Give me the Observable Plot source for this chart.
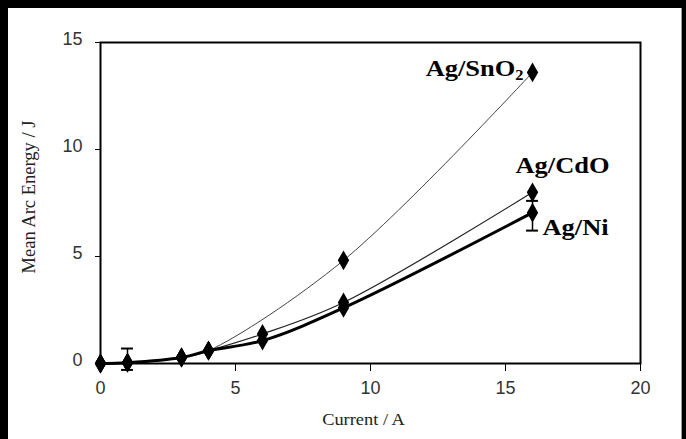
<!DOCTYPE html>
<html><head><meta charset="utf-8">
<script src="https://cdn.jsdelivr.net/npm/d3@7"></script>
<script src="https://cdn.jsdelivr.net/npm/@observablehq/plot@0.6"></script>
<style>
html,body{margin:0;padding:0;background:#000;width:686px;height:439px;overflow:hidden}
#panel{position:absolute;left:8px;top:8px;width:674px;height:431px;background:#fff;border-right:1px solid #999;box-sizing:border-box}
#chart{position:absolute;left:0;top:0}
</style></head><body>
<div id="panel"></div><div id="chart"></div>
<script>
// Data
const currents = [0, 1, 3, 4, 6, 9, 16];
const energyNi = [0, 0.04, 0.28, 0.6, 1.07, 2.6, 7.05];
const energyCdO = [0, 0.04, 0.28, 0.6, 1.38, 2.85, 8.0];
const currentsSnO2 = [0, 1, 3, 4, 9, 16];
const energySnO2 = [0, 0.04, 0.28, 0.6, 4.82, 13.6];
const errCurrents = [1, 16];
const errLow = [-0.3, 6.21];
const errHigh = [0.7, 7.6];
const seriesNames = ["Ag/SnO2", "Ag/CdO", "Ag/Ni"];
const xTicks = [0, 5, 10, 15, 20];
const yTicks = [0, 5, 10, 15];
const xTitle = "Current / A";
const yTitle = "Mean Arc Energy / J";

const rowsNi = currents.map((x, i) => ({x, y: energyNi[i]}));
const rowsCdO = currents.map((x, i) => ({x, y: energyCdO[i]}));
const rowsSnO2 = currentsSnO2.map((x, i) => ({x, y: energySnO2[i]}));
const errRows = errCurrents.map((x, i) => ({x, lo: errLow[i], hi: errHigh[i]}));
const capRows = errRows.flatMap(d => [{x: d.x, y: d.lo}, {x: d.x, y: d.hi}]);
const capHalf = 0.22;
const lastOf = rows => rows[rows.length - 1];
const labelSnO2 = [{...lastOf(rowsSnO2), text: seriesNames[0]}];
const labelCdO = [{...lastOf(rowsCdO), text: seriesNames[1]}];
const labelNi = [{...lastOf(rowsNi), text: seriesNames[2]}];

const serif = "'Liberation Serif','Times New Roman',serif";
const labelStyle = {x: "x", y: "y", text: "text", fontFamily: serif, fontWeight: "bold", fontSize: 23, fill: "#000", lineAnchor: "bottom"};

const chart = Plot.plot({
  width: 686, height: 439,
  marginLeft: 100, marginRight: 46, marginTop: 42, marginBottom: 76,
  style: {background: "transparent", fontFamily: "'Liberation Sans Narrow','Liberation Sans',Arial,sans-serif", fontSize: "18px", color: "#000"},
  x: {domain: [0, 20]},
  y: {domain: [0, 15]},
  marks: [
    Plot.axisX(xTicks, {tickSize: 8, fill: "none", stroke: "#000", label: null}),
    Plot.axisX(xTicks, {tickSize: 0, tickPadding: 18, fill: "#333", label: null}),
    Plot.axisY(yTicks, {tickSize: 5, fill: "none", stroke: "#000", label: null}),
    Plot.axisY(yTicks, {tickSize: 0, tickPadding: 18, dy: -3, fill: "#333", label: null}),
    Plot.line(rowsSnO2, {x: "x", y: "y", curve: "catmull-rom", stroke: "#444", strokeWidth: 1}),
    Plot.line(rowsCdO, {x: "x", y: "y", curve: "catmull-rom", stroke: "#222", strokeWidth: 1.2}),
    Plot.line(rowsNi, {x: "x", y: "y", curve: "catmull-rom", stroke: "#000", strokeWidth: 3}),
    Plot.ruleX(errRows, {x: "x", y1: "lo", y2: "hi", stroke: "#000", strokeWidth: 1.5}),
    Plot.ruleY(capRows, {y: "y", x1: d => d.x - capHalf, x2: d => d.x + capHalf, stroke: "#000", strokeWidth: 2}),
    Plot.dot(rowsSnO2.concat(rowsCdO, rowsNi), {x: "x", y: "y", symbol: "diamond", r: 6, fill: "#000"}),
    Plot.frame({stroke: "#000", strokeWidth: 2}),
    Plot.text(labelSnO2, {...labelStyle, textAnchor: "end", dx: -9, dy: 4}),
    Plot.text(labelCdO, {...labelStyle, textAnchor: "middle", dx: 30, dy: -19}),
    Plot.text(labelNi, {...labelStyle, textAnchor: "start", dx: 10, dy: 22}),
    Plot.text([xTitle], {text: d => d, frameAnchor: "bottom", lineAnchor: "bottom", dx: -7, dy: 61, fontFamily: serif, fontSize: 16, fill: "#222"}),
    Plot.text([yTitle], {text: d => d, frameAnchor: "left", textAnchor: "middle", lineAnchor: "middle", rotate: -90, dx: -71, dy: -6, fontFamily: serif, fontSize: 18.5, fill: "#222"})
  ]
});
document.getElementById("chart").appendChild(chart);

// Horizontal stretch of the serif texts, as in the reference, and subscript for SnO2
const stretched = new Set([...seriesNames, xTitle]);
d3.select(chart).selectAll("text").each(function () {
  const t = this.textContent;
  if (!stretched.has(t)) return;
  const tr = this.getAttribute("transform");
  if (tr) this.setAttribute("transform", tr + " scale(1.15,1)");
  else {
    const x = this.getAttribute("x") || 0, y = this.getAttribute("y") || 0;
    this.removeAttribute("x"); this.removeAttribute("y");
    this.setAttribute("transform", `translate(${x},${y}) scale(1.15,1)`);
  }
  if (t === seriesNames[0]) {
    const el = d3.select(this);
    el.text(null);
    el.append("tspan").text(t.slice(0, -1));
    el.append("tspan").attr("font-size", "0.62em").attr("dy", "0.22em").text(t.slice(-1));
  }
});
</script>
</body></html>
